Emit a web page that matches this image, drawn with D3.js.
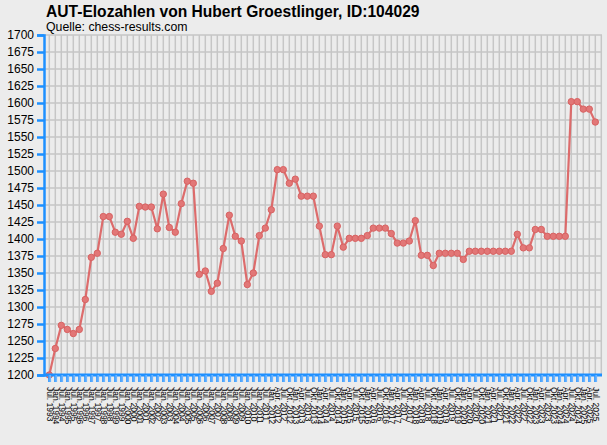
<!DOCTYPE html>
<html><head><meta charset="utf-8">
<script src="https://cdn.jsdelivr.net/npm/d3@7"></script>
<style>
html,body{margin:0;padding:0;background:#ececec;}
svg{display:block;}
</style></head>
<body>
<svg id="chart" width="607" height="445"></svg>
<script>
const titleText = "AUT-Elozahlen von Hubert Groestlinger, ID:104029";
const subtitleText = "Quelle: chess-results.com";

const dates = [
 "Jul. 1993","Jan. 1994","Jul. 1994","Jan. 1995","Jul. 1995","Jan. 1996","Jul. 1996","Jan. 1997","Jul. 1997",
 "Jan. 1998","Jul. 1998","Jan. 1999","Jul. 1999","Jan. 2000","Jul. 2000","Jan. 2001","Jul. 2001","Jan. 2002",
 "Jul. 2002","Jan. 2003","Jul. 2003","Jan. 2004","Jul. 2004","Jan. 2005","Jul. 2005","Jan. 2006","Jul. 2006",
 "Jan. 2007","Jul. 2007","Jan. 2008","Jul. 2008","Jan. 2009","Jul. 2009","Jan. 2010","Jul. 2010","Jan. 2011",
 "Jul. 2011","Jan. 2012","Apr. 2012","Jul. 2012","Okt. 2012",
 "Jan. 2013","Apr. 2013","Jul. 2013","Okt. 2013","Jan. 2014","Apr. 2014","Jul. 2014","Okt. 2014",
 "Jan. 2015","Apr. 2015","Jul. 2015","Okt. 2015","Jan. 2016","Apr. 2016","Jul. 2016","Okt. 2016",
 "Jan. 2017","Apr. 2017","Jul. 2017","Okt. 2017","Jan. 2018","Apr. 2018","Jul. 2018","Okt. 2018",
 "Jan. 2019","Apr. 2019","Jul. 2019","Okt. 2019","Jan. 2020","Apr. 2020","Jul. 2020","Okt. 2020",
 "Jan. 2021","Apr. 2021","Jul. 2021","Okt. 2021","Jan. 2022","Apr. 2022","Jul. 2022","Okt. 2022",
 "Jan. 2023","Apr. 2023","Jul. 2023","Okt. 2023","Jan. 2024","Apr. 2024","Jul. 2024","Okt. 2024",
 "Jan. 2025","Apr. 2025","Jul. 2025"
];

const elo = [
 1200,1239,1273,1267,1261,1267,1311,1373,1379,1433,
 1433,1410,1407,1426,1401,1448,1447,1447,1415,1466,
 1417,1410,1452,1485,1482,1348,1353,1323,1335,1386,
 1435,1404,1397,1333,1350,1405,1416,1443,1502,1502,
 1482,1488,1463,1463,1463,1419,1377,1377,1419,1388,
 1401,1401,1401,1405,1416,1416,1416,1408,1394,1394,
 1397,1427,1376,1376,1361,1379,1379,1379,1379,1370,
 1382,1382,1382,1382,1382,1382,1382,1382,1407,1387,
 1387,1414,1414,1404,1404,1404,1404,1602,1602,1591,
 1591,1572
];

const yTicks = [1200,1225,1250,1275,1300,1325,1350,1375,1400,1425,1450,1475,1500,1525,1550,1575,1600,1625,1650,1675,1700];

const svg = d3.select("#chart");
const plot = {left: 44, right: 602, top: 35, bottom: 375};
const axisBlue = "#1e90ff";

const x = d3.scaleLinear().domain([0, dates.length - 1]).range([49.3, 595.3]);
const y = d3.scaleLinear().domain([1200, 1700]).range([plot.bottom, plot.top]);

// title
svg.append("text").attr("x", 46).attr("y", 16.5)
  .attr("font-family", "Liberation Sans, Arial, sans-serif").attr("font-size", 15.6).attr("font-weight", "bold")
  .attr("fill", "#000").text(titleText);
svg.append("text").attr("x", 46).attr("y", 31)
  .attr("font-family", "Liberation Sans, Arial, sans-serif").attr("font-size", 12.3)
  .attr("fill", "#000").text(subtitleText);

// grid
const grid = svg.append("g");
grid.selectAll("line.h").data(yTicks.filter(d => d > 1200)).enter().append("line")
  .attr("x1", plot.left).attr("x2", plot.right)
  .attr("y1", d => y(d)).attr("y2", d => y(d))
  .attr("stroke", "#c6c6c6").attr("stroke-width", 1.5);
const gridIdx = d3.range(dates.length + 1);
grid.selectAll("line.v").data(gridIdx).enter().append("line")
  .attr("x1", d => x(d)).attr("x2", d => x(d))
  .attr("y1", plot.top).attr("y2", plot.bottom)
  .attr("stroke", "#c6c6c6").attr("stroke-width", 1.5);

// data line
const line = d3.line().x((d, i) => x(i)).y(d => y(d));
svg.append("path").datum(elo).attr("d", line)
  .attr("fill", "none").attr("stroke", "#dc6565").attr("stroke-width", 2.2)
  .attr("stroke-linejoin", "round").attr("opacity", 0.95);
svg.selectAll("circle.pt").data(elo).enter().append("circle")
  .attr("cx", (d, i) => x(i)).attr("cy", d => y(d)).attr("r", 3.2)
  .attr("fill", "#e27777").attr("stroke", "#d86262").attr("stroke-width", 1);

// y axis
const yAxis = d3.axisLeft(y).tickValues(yTicks).tickSize(7).tickPadding(3).tickFormat(d3.format("d"));
const gy = svg.append("g").attr("transform", `translate(${plot.left},0)`).call(yAxis);
gy.select(".domain").attr("stroke", axisBlue).attr("stroke-width", 2.5);
gy.selectAll(".tick line").attr("stroke", axisBlue).attr("stroke-width", 2.5);
gy.selectAll(".tick text").attr("font-family", "Liberation Sans, Arial, sans-serif")
  .attr("font-size", 12).attr("fill", "#000");

// x axis
const xAxis = d3.axisBottom(x).tickValues(d3.range(dates.length)).tickSize(7)
  .tickFormat(i => dates[i]);
const gx = svg.append("g").attr("transform", `translate(0,${plot.bottom})`).call(xAxis);
gx.select(".domain").attr("d", `M${plot.left},0H${plot.right}`)
  .attr("stroke", axisBlue).attr("stroke-width", 3);
gx.selectAll(".tick line").attr("stroke", "#6cb4ff").attr("stroke-width", 2.6);
gx.selectAll(".tick").append("line").attr("y1", 0).attr("y2", 7)
  .attr("x1", -1).attr("x2", -1).attr("stroke", axisBlue).attr("stroke-width", 1);
gx.selectAll(".tick text")
  .attr("font-family", "Liberation Sans, Arial, sans-serif").attr("font-size", 8.5).attr("fill", "#000")
  .attr("transform", "rotate(90)")
  .attr("x", 12).attr("y", 0).attr("dy", "0.35em")
  .attr("text-anchor", "start");
</script>
</body></html>
